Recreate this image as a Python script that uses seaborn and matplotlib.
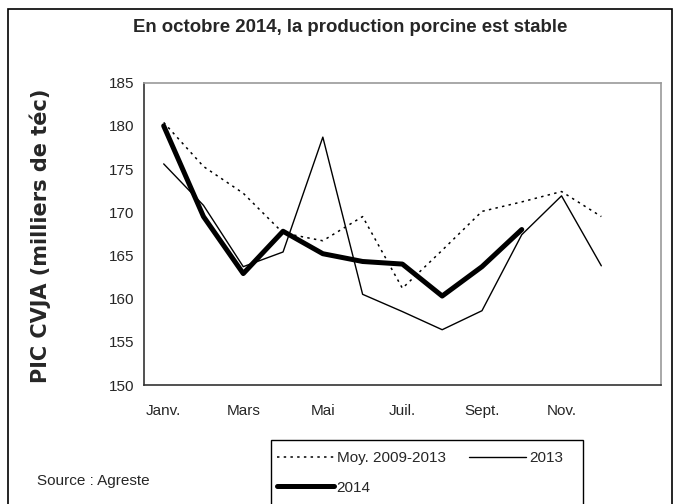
import numpy as np
import pandas as pd
import matplotlib
matplotlib.use("Agg")
import matplotlib.pyplot as plt
import seaborn as sns
from matplotlib.patches import Rectangle
from matplotlib.lines import Line2D

months = ["Janv.", "Févr.", "Mars", "Avr.", "Mai", "Juin", "Juil.", "Août",
          "Sept.", "Oct.", "Nov.", "Déc.", ""]
tick_labels = ["Janv.", "", "Mars", "", "Mai", "", "Juil.", "", "Sept.", "", "Nov.", "", ""]
moy_2009_2013 = [180.4, 175.3, 172.2, 167.6, 166.7, 169.5, 161.2, 165.6, 170.1, 171.2, 172.4, 169.5, np.nan]
y2013 = [175.6, 170.8, 163.7, 165.4, 178.7, 160.5, 158.5, 156.4, 158.6, 167.4, 171.9, 163.8, np.nan]
y2014 = [180.0, 169.5, 162.9, 167.8, 165.2, 164.3, 164.0, 160.3, 163.7, 168.0, np.nan, np.nan, np.nan]
series_names = ["Moy. 2009-2013", "2013", "2014"]

sns.set_style("white")
narrow = ["Liberation Sans Narrow", "Liberation Sans", "DejaVu Sans"]
plt.rcParams["font.family"] = narrow

W, H = 674, 504
fig = plt.figure(figsize=(W / 100, H / 100), dpi=100)

def fx(px):
    return px / W

def fy(py):
    return 1 - py / H

left, right, top, bottom = 143.8, 661.0, 82.7, 385.0
ax = fig.add_axes([fx(left), fy(bottom), fx(right - left), (bottom - top) / H])

df = pd.DataFrame({"idx": np.arange(len(months)), "moy": moy_2009_2013,
                   "y2013": y2013, "y2014": y2014})

dot_style = (0, (1.6, 2.8))
sns.lineplot(data=df, x="idx", y="moy", ax=ax, color="black", lw=1.1,
             linestyle=dot_style)
sns.lineplot(data=df, x="idx", y="y2013", ax=ax, color="black", lw=1.0)
sns.lineplot(data=df, x="idx", y="y2014", ax=ax, color="black", lw=3.6,
             solid_joinstyle="round", solid_capstyle="round")

ax.set_xlim(-0.5, len(months) - 0.5)
ax.set_ylim(150, 185)
ax.set_yticks(np.arange(150, 186, 5))
ax.set_yticklabels([str(v) for v in range(150, 186, 5)])
ax.set_xticks(np.arange(-0.5, len(months), 1.0))
ax.set_xticklabels([""] * (len(months) + 1))
ax.set_xticks(np.arange(len(months)), minor=True)
ax.set_xticklabels(tick_labels, minor=True)
ax.tick_params(axis="x", which="major", direction="out", length=5, width=1, color="#222222")
ax.tick_params(axis="x", which="minor", length=0, pad=14, labelsize=11)
ax.tick_params(axis="y", which="major", direction="out", length=5, width=1, color="#222222",
               labelsize=11, pad=2)
ax.set_xlabel("")
ax.set_ylabel("")
for s in ["left", "bottom"]:
    ax.spines[s].set_color("#333333")
    ax.spines[s].set_linewidth(1.2)
for s in ["top", "right"]:
    ax.spines[s].set_color("#999999")
    ax.spines[s].set_linewidth(1.2)
ax.grid(False)

fig.text(fx(350), fy(28), "En octobre 2014, la production porcine est stable",
         ha="center", va="center", fontsize=13.4, fontweight="bold")
fig.text(fx(40), fy(236), "PIC CVJA (milliers de téc)", rotation=90,
         ha="center", va="center", fontsize=15, fontweight="bold",
         family=["DejaVu Sans"])
fig.text(fx(37), fy(481), "Source : Agreste", ha="left", va="center", fontsize=11)

# outer frame
fig.patches.append(Rectangle((fx(7.5), fy(520)), fx(672 - 7.5), (520 - 8.5) / H,
                             transform=fig.transFigure, fill=False, ec="black", lw=1.2))
# legend frame
fig.patches.append(Rectangle((fx(271), fy(520)), fx(583 - 271), (520 - 440) / H,
                             transform=fig.transFigure, fill=False, ec="black", lw=1.0))

handles = [
    Line2D([], [], color="black", lw=1.1, linestyle=dot_style),
    Line2D([], [], color="black", lw=3.6, solid_capstyle="round"),
    Line2D([], [], color="black", lw=1.0),
]
labels = [series_names[0], series_names[2], series_names[1]]
fig.legend(handles, labels, ncol=2, loc="upper left",
           bbox_to_anchor=(fx(277), fy(451)), frameon=False, fontsize=11,
           handlelength=3.7, handletextpad=0.2, columnspacing=1.55,
           labelspacing=1.02, borderaxespad=0, borderpad=0.0)

fig.savefig("out.png", dpi=100)
